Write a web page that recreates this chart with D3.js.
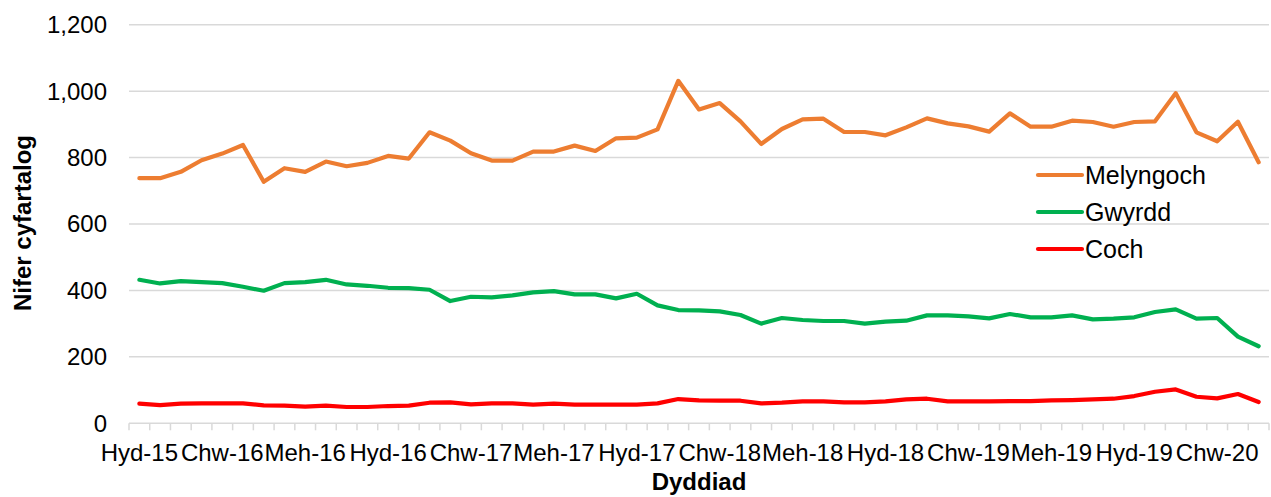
<!DOCTYPE html>
<html>
<head>
<meta charset="utf-8">
<script src="https://cdn.jsdelivr.net/npm/d3@7"></script>
<style>
  body { margin: 0; background: #fff; }
  text { font-family: "Liberation Sans", Arial, sans-serif; fill: #000; }
</style>
</head>
<body>
<div class="chart"></div>
<script>
// monthly categories, Hyd-15 .. Ebr-20
var categories = [
  "Hyd-15","Tach-15","Rhag-15",
  "Ion-16","Chw-16","Maw-16","Ebr-16","Mai-16","Meh-16","Gorff-16","Awst-16","Medi-16","Hyd-16","Tach-16","Rhag-16",
  "Ion-17","Chw-17","Maw-17","Ebr-17","Mai-17","Meh-17","Gorff-17","Awst-17","Medi-17","Hyd-17","Tach-17","Rhag-17",
  "Ion-18","Chw-18","Maw-18","Ebr-18","Mai-18","Meh-18","Gorff-18","Awst-18","Medi-18","Hyd-18","Tach-18","Rhag-18",
  "Ion-19","Chw-19","Maw-19","Ebr-19","Mai-19","Meh-19","Gorff-19","Awst-19","Medi-19","Hyd-19","Tach-19","Rhag-19",
  "Ion-20","Chw-20","Maw-20","Ebr-20"
];

var tickLabels = ["Hyd-15","Chw-16","Meh-16","Hyd-16","Chw-17","Meh-17","Hyd-17",
  "Chw-18","Meh-18","Hyd-18","Chw-19","Meh-19","Hyd-19","Chw-20"];

var yTicks = [0, 200, 400, 600, 800, 1000, 1200];

var melyngoch = [738,738,757,792,812,838,727,768,757,788,774,784,805,797,876,851,813,791,791,818,
  818,836,820,858,860,885,1031,945,964,909,841,886,915,917,877,877,867,891,918,903,
  894,878,933,893,893,911,907,893,907,909,994,876,849,908,786];

var gwyrdd = [432,421,428,425,422,411,399,422,425,432,418,414,408,407,402,368,381,379,385,394,
  398,388,388,376,390,355,341,340,337,326,300,317,311,308,308,300,306,309,325,325,
  322,316,329,319,319,325,313,315,319,335,343,315,317,261,232];

var coch = [59,55,59,60,60,60,54,53,50,53,49,49,52,53,62,63,57,60,60,56,
  59,56,56,56,56,60,73,69,68,68,60,62,66,66,63,63,66,72,74,66,
  66,66,67,67,69,70,72,74,82,95,102,80,75,88,64];

var seriesNames = ["Melyngoch", "Gwyrdd", "Coch"];
var seriesColors = ["#ED7D31", "#00B050", "#FF0000"];
var allSeries = [melyngoch, gwyrdd, coch];

var w = 1271;
var h = 497;

var svg = d3.select(".chart")
  .append("svg")
  .attr("width", w)
  .attr("height", h);

var x = d3.scaleBand()
  .domain(categories)
  .range([129, 1269]);

var y = d3.scaleLinear()
  .domain([0, 1200])
  .range([423.3, 24.7]);

// gridlines
svg.selectAll(".grid")
  .data(yTicks.slice(1))
  .enter()
  .append("line")
  .attr("class", "grid")
  .attr("x1", 129)
  .attr("x2", 1269)
  .attr("y1", function(d) { return y(d); })
  .attr("y2", function(d) { return y(d); })
  .attr("stroke", "#d9d9d9")
  .attr("stroke-width", 1.5);

// y labels
svg.selectAll(".ylab")
  .data(yTicks)
  .enter()
  .append("text")
  .attr("class", "ylab")
  .attr("x", 107)
  .attr("y", function(d) { return y(d); })
  .attr("dy", "0.35em")
  .attr("text-anchor", "end")
  .attr("font-size", "24px")
  .text(d3.format(","));

// x axis line + tick marks between categories
svg.append("line")
  .attr("x1", 129)
  .attr("x2", 1269)
  .attr("y1", y(0))
  .attr("y2", y(0))
  .attr("stroke", "#d9d9d9")
  .attr("stroke-width", 1.5);

var boundaries = categories.map(function(c) { return x(c); });
boundaries.push(x.range()[1]);

svg.selectAll(".xtick")
  .data(boundaries)
  .enter()
  .append("line")
  .attr("class", "xtick")
  .attr("x1", function(d) { return d; })
  .attr("x2", function(d) { return d; })
  .attr("y1", y(0))
  .attr("y2", y(0) + 7)
  .attr("stroke", "#d9d9d9")
  .attr("stroke-width", 1.5);

svg.selectAll(".xlab")
  .data(tickLabels)
  .enter()
  .append("text")
  .attr("class", "xlab")
  .attr("x", function(d) { return x(d) + x.bandwidth() / 2; })
  .attr("y", 461)
  .attr("text-anchor", "middle")
  .attr("font-size", "24px")
  .text(function(d) { return d; });

// lines
var line = d3.line()
  .x(function(d, i) { return x(categories[i]) + x.bandwidth() / 2; })
  .y(function(d) { return y(d); });

svg.selectAll(".series")
  .data(allSeries)
  .enter()
  .append("path")
  .attr("class", "series")
  .attr("d", line)
  .attr("fill", "none")
  .attr("stroke", function(d, i) { return seriesColors[i]; })
  .attr("stroke-width", 4.2)
  .attr("stroke-linejoin", "round")
  .attr("stroke-linecap", "round");

// legend
var legend = svg.selectAll(".legend")
  .data(seriesNames)
  .enter()
  .append("g")
  .attr("class", "legend")
  .attr("transform", function(d, i) { return "translate(1038," + (175 + i * 37) + ")"; });

legend.append("line")
  .attr("x1", 0)
  .attr("x2", 44)
  .attr("stroke", function(d, i) { return seriesColors[i]; })
  .attr("stroke-width", 4.2)
  .attr("stroke-linecap", "round");

legend.append("text")
  .attr("x", 47)
  .attr("dy", "0.35em")
  .attr("font-size", "25px")
  .text(function(d) { return d; });

// axis titles
svg.append("text")
  .attr("transform", "translate(31,223) rotate(-90)")
  .attr("text-anchor", "middle")
  .attr("font-size", "24px")
  .attr("font-weight", "bold")
  .text("Nifer cyfartalog");

svg.append("text")
  .attr("x", 699)
  .attr("y", 490)
  .attr("text-anchor", "middle")
  .attr("font-size", "24px")
  .attr("font-weight", "bold")
  .text("Dyddiad");
</script>
</body>
</html>
